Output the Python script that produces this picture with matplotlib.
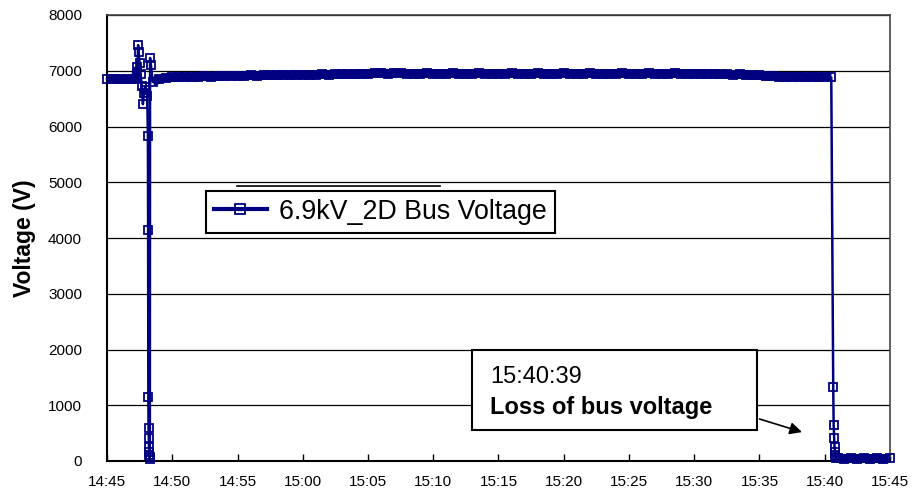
import matplotlib
matplotlib.use("Agg")
import matplotlib.pyplot as plt
import numpy as np

plt.rcParams['font.family'] = ['Liberation Sans', 'DejaVu Sans']


def clock(s):
    # minutes after 14:45:00
    h, m, sec = [int(p) for p in s.split(":")]
    return (h * 60 + m + sec / 60.0) - (14 * 60 + 45)


# before the event, every 30 s from 14:45:00
pre_v = [6850, 6855, 6850, 6845, 6850]

# disturbance at about 14:48
event_t = ["14:47:10", "14:47:20", "14:47:23", "14:47:25", "14:47:30", "14:47:35",
           "14:47:40", "14:47:45", "14:47:50", "14:47:55", "14:48:00", "14:48:05",
           "14:48:08", "14:48:09", "14:48:10", "14:48:11", "14:48:12", "14:48:13",
           "14:48:14", "14:48:15", "14:48:16", "14:48:17", "14:48:18", "14:48:22",
           "14:48:30"]
event_v = [6860, 7060, 7460, 7340, 7140, 6950,
           6720, 6400, 6600, 6700, 6650, 6550,
           5830, 4140, 1140, 600, 420, 260,
           160, 110, 70, 40, 7230, 7100,
           6800]

# normal operation, every 30 s from 14:49:00 to 15:40:30
band_v = [6850, 6870, 6880,
          6880, 6890, 6885, 6895, 6900, 6890, 6900, 6905, 6910, 6905,
          6910, 6915, 6910, 6920, 6915, 6920, 6925, 6920, 6925, 6930,
          6925, 6930, 6935, 6930, 6935, 6940, 6935, 6940, 6945, 6950,
          6955, 6960, 6950, 6955, 6960, 6950, 6945, 6950, 6955, 6950,
          6945, 6950, 6955, 6950, 6945, 6950, 6955, 6950, 6945, 6950,
          6950, 6955, 6950, 6945, 6950, 6955, 6950, 6945, 6950, 6955,
          6950, 6945, 6950, 6955, 6950, 6945, 6950, 6950, 6955, 6950,
          6945, 6950, 6955, 6950, 6945, 6950, 6955, 6950, 6945, 6950,
          6945, 6940, 6945, 6940, 6935, 6930, 6935, 6925, 6920, 6915,
          6905, 6900, 6895, 6890, 6895, 6890, 6885, 6890, 6885, 6890,
          6880]

# loss of bus voltage at 15:40:39
loss_t = ["15:40:39", "15:40:41", "15:40:43", "15:40:45", "15:40:47",
          "15:40:49", "15:40:51", "15:41:00"]
loss_v = [1330, 640, 420, 250, 160, 90, 55, 45]

# after the loss, every 30 s from 15:41:30
post_v = [40, 45, 40, 45, 40, 45, 40, 45]

tick_labels = ["14:45", "14:50", "14:55", "15:00", "15:05", "15:10", "15:15",
               "15:20", "15:25", "15:30", "15:35", "15:40", "15:45"]

pre_t = 0.5 * np.arange(len(pre_v))
band_t = clock("14:49:00") + 0.5 * np.arange(len(band_v))
post_t = clock("15:41:30") + 0.5 * np.arange(len(post_v))
ev_t = np.array([clock(s) for s in event_t])
ls_t = np.array([clock(s) for s in loss_t])

t = np.concatenate([pre_t, ev_t, band_t, ls_t, post_t])
v = np.concatenate([pre_v, event_v, band_v, loss_v, post_v])

navy = '#000080'

fig = plt.figure(figsize=(9.13, 5.0), dpi=100)
ax = fig.add_axes([0.1172, 0.078, 0.8576, 0.892])

# the dense samples in the steady parts merge into a solid band
for seg_t, seg_v in [(np.concatenate([pre_t, ev_t[:2]]), pre_v + event_v[:2]),
                     (np.concatenate([ev_t[-1:], band_t]), event_v[-1:] + band_v),
                     (np.concatenate([ls_t[-1:], post_t]), loss_v[-1:] + post_v)]:
    ax.plot(seg_t, seg_v, color=navy, lw=6.5, solid_capstyle='butt',
            clip_on=False, zorder=3)

line, = ax.plot(t, v, color=navy, lw=1.8, marker='s', ms=6, mfc='none',
                mec=navy, mew=1.3, label='6.9kV_2D Bus Voltage', clip_on=False,
                zorder=3)

ax.set_xlim(0, 60)
ax.set_ylim(0, 8000)
ax.set_xticks(np.arange(0, 61, 5))
ax.set_xticklabels(tick_labels)
ax.set_yticks(np.arange(0, 8001, 1000))
ax.yaxis.grid(True, color='black', lw=0.9)
ax.set_axisbelow(True)
ax.tick_params(axis='x', direction='in', length=5, width=1, labelsize=11, pad=10)
ax.tick_params(axis='y', length=0, labelsize=11, pad=18)
for side in ['left', 'bottom']:
    ax.spines[side].set_linewidth(1.5)
for side in ['top', 'right']:
    ax.spines[side].set_linewidth(1.2)
    ax.spines[side].set_color('#444444')

ax.set_ylabel('Voltage (V)', fontsize=16.5, fontweight='bold', labelpad=9)

leg = ax.legend(handles=[line], loc='center', bbox_to_anchor=(0.349, 0.559),
                fontsize=19.3, fancybox=False, framealpha=1, edgecolor='black',
                handlelength=2.0, borderpad=0.3, handletextpad=0.45)
leg.get_frame().set_linewidth(1.5)
leg.get_lines()[0].set_linewidth(3)
leg.get_lines()[0].set_markersize(7.5)
ax.plot([0.166, 0.425], [0.617, 0.617], transform=ax.transAxes, color='black',
        lw=1.2, zorder=4)

# annotation box
box = plt.Rectangle((0.466, 0.0695), 0.364, 0.1795, transform=ax.transAxes,
                    facecolor='white', edgecolor='black', lw=1.5, zorder=5)
ax.add_patch(box)
ax.text(0.489, 0.188, '15:40:39', transform=ax.transAxes, fontsize=17,
        va='center', ha='left', zorder=6)
ax.text(0.489, 0.121, 'Loss of bus voltage', transform=ax.transAxes,
        fontsize=17, fontweight='bold', va='center', ha='left', zorder=6)
ax.annotate('', xy=(0.891, 0.063), xytext=(0.830, 0.096),
            xycoords='axes fraction', textcoords='axes fraction',
            arrowprops=dict(arrowstyle='-|>', color='black', lw=1.2,
                            mutation_scale=18), zorder=6)

fig.savefig('out.png', dpi=100)
